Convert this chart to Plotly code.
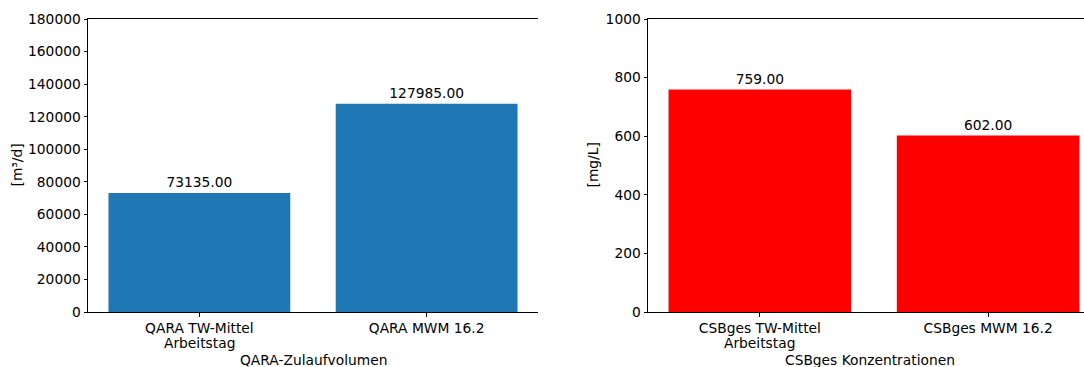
import plotly.graph_objects as go

# Volumes (left) and COD concentrations (right)
vol_labels = ["QARA TW-Mittel", "QARA MWM 16.2"]
vol_labels_2nd = ["Arbeitstag", ""]
vol_values = [73135.00, 127985.00]
csb_labels = ["CSBges TW-Mittel", "CSBges MWM 16.2"]
csb_labels_2nd = ["Arbeitstag", ""]
csb_values = [759.00, 602.00]

vol_ticks = list(range(0, 180001, 20000))
csb_ticks = list(range(0, 1001, 200))

W, H = 1084, 367
FONT = "DejaVu Sans"
fs = 13.8

fig = go.Figure()
fig.add_trace(go.Bar(
    x=[0, 1], y=vol_values, width=0.8, marker=dict(color="#1f77b4", line=dict(width=0)),
    texttemplate="%{y:.2f}", textposition="outside", textfont=dict(size=fs, color="black"),
    cliponaxis=False, xaxis="x", yaxis="y",
))
fig.add_trace(go.Bar(
    x=[0, 1], y=csb_values, width=0.8, marker=dict(color="#ff0000", line=dict(width=0)),
    texttemplate="%{y:.2f}", textposition="outside", textfont=dict(size=fs, color="black"),
    cliponaxis=False, xaxis="x2", yaxis="y2",
))

ax_common = dict(showline=True, linecolor="black", linewidth=1, ticks="outside",
                 ticklen=3.5, tickcolor="black", showgrid=False, zeroline=False,
                 automargin=False,
                 tickfont=dict(family=FONT, size=fs, color="black"))

y_top = 1 - 19 / H
y_bot = 1 - 312 / H
fig.update_layout(
    width=W, height=H, margin=dict(l=0, r=0, t=0, b=0, pad=0),
    paper_bgcolor="white", plot_bgcolor="white", showlegend=False,
    font=dict(family=FONT, size=fs, color="black"),
    xaxis=dict(domain=[88 / W, 538 / W], range=[-0.49, 1.49], tickvals=[0, 1],
               ticktext=vol_labels, mirror=True, anchor="y", **ax_common),
    yaxis=dict(domain=[y_bot, y_top], range=[0, 180000], tickvals=vol_ticks,
               ticktext=[str(v) for v in vol_ticks], anchor="x", **ax_common),
    xaxis2=dict(domain=[648 / W, 1.0], range=[-0.49, 1.42], tickvals=[0, 1],
                ticktext=csb_labels, mirror=True, anchor="y2", **ax_common),
    yaxis2=dict(domain=[y_bot, y_top], range=[0, 1000], tickvals=csb_ticks,
                ticktext=[str(v) for v in csb_ticks], anchor="x2", **ax_common),
)

# Second line of the category labels, tighter line spacing than <br>
for xr, texts in (("x", vol_labels_2nd), ("x2", csb_labels_2nd)):
    for i, t in enumerate(texts):
        if t:
            fig.add_annotation(text=t, x=i, xref=xr, y=1 - 343 / H, yref="paper",
                               xanchor="center", yanchor="middle", showarrow=False,
                               font=dict(size=fs))

# Axis titles
mid = (y_top + y_bot) / 2
for txt, xp in (("[m³/d]", 17), ("[mg/L]", 593)):
    fig.add_annotation(text=txt, x=xp / W, y=mid, xref="paper", yref="paper",
                       xanchor="center", yanchor="middle", textangle=-90,
                       showarrow=False, font=dict(size=fs))
for txt, xp in (("QARA-Zulaufvolumen", 313), ("CSBges Konzentrationen", 870)):
    fig.add_annotation(text=txt, x=xp / W, y=1 - 360 / H, xref="paper", yref="paper",
                       xanchor="center", yanchor="middle", showarrow=False,
                       font=dict(size=fs))

fig.write_html("out.html")
